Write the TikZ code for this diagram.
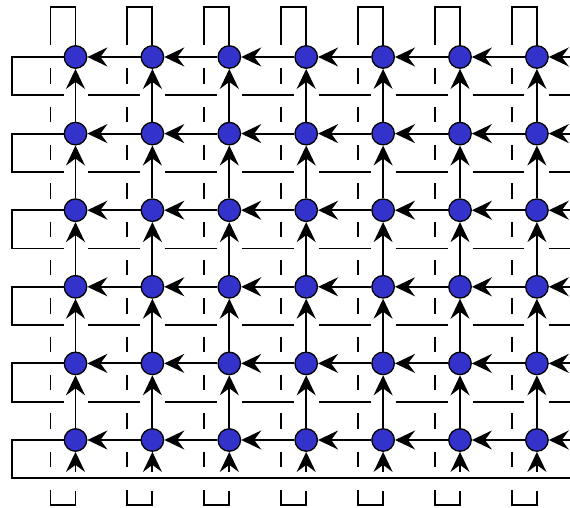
\documentclass[tikz,border=0pt]{standalone}
\usetikzlibrary{arrows.meta,calc}
\tikzset{>={Stealth[length=20pt,width=19pt,inset=7pt]}}
\definecolor{sitecol}{RGB}{51,51,204}
\tikzstyle{site}=[circle,draw,fill=sitecol,line width=1.3pt,minimum size=22.5pt,inner sep=0pt]
\tikzstyle{link}=[line width=1.9pt]
\tikzstyle{vwrap}=[link,dash pattern=on 15.3pt off 23pt]
\tikzstyle{hwrap}=[link,dash pattern=on 51.9pt off 25pt]
\def\dx{76.9}
\def\dy{76.6}

\begin{document}
\begin{tikzpicture}[x=1pt,y=-1pt]
  \useasboundingbox (0,0) rectangle (570,508);
  \clip (0,0) rectangle (570,508);

  % SITES
  \foreach \i in {0,...,6}
    \foreach \j in {0,...,5}
      \node[site] (n-\i-\j) at ({75.5+\i*\dx},{57+\j*\dy}) {};

  % LINKS
  \foreach \j in {0,...,5} {
    \foreach \i [count=\k] in {0,...,5}
      \draw[link,->] (n-\k-\j) -- (n-\i-\j);
    \draw[link,<-] (n-6-\j) -- ++(40,0);
  }
  \foreach \i in {0,...,6}
    \foreach \j [count=\k] in {0,...,4}
      \draw[link,->] (n-\i-\k) -- (n-\i-\j);

  % ROW WRAP
  \foreach \j in {0,...,4} {
    \draw[link] (n-0-\j) -- ++(-63.5,0) -- ++(0,38.3) -- ++(51.5,0);
    \draw[hwrap] ($(n-0-\j)+(12.5,38.3)$) -- ++(520,0);
  }
  \draw[link] (n-0-5) -- ++(-63.5,0) -- ++(0,38.3) -- ++(560,0);

  % COLUMN WRAP
  \foreach \i in {0,...,6} {
    \draw[link] (n-\i-0) -- ++(0,-50) -- ++(-25,0) -- ++(0,38.5);
    \draw[vwrap] ($(n-\i-0)+(-25,11.5)$) -- ++(0,398.3);
    \draw[link] ($(n-\i-5)+(-25,50)$) -- ++(0,15) -- ++(25,0) -- ++(0,-14);
    \draw[link,<-] (n-\i-5) -- ++(0,32);
  }

\end{tikzpicture}
\end{document}
